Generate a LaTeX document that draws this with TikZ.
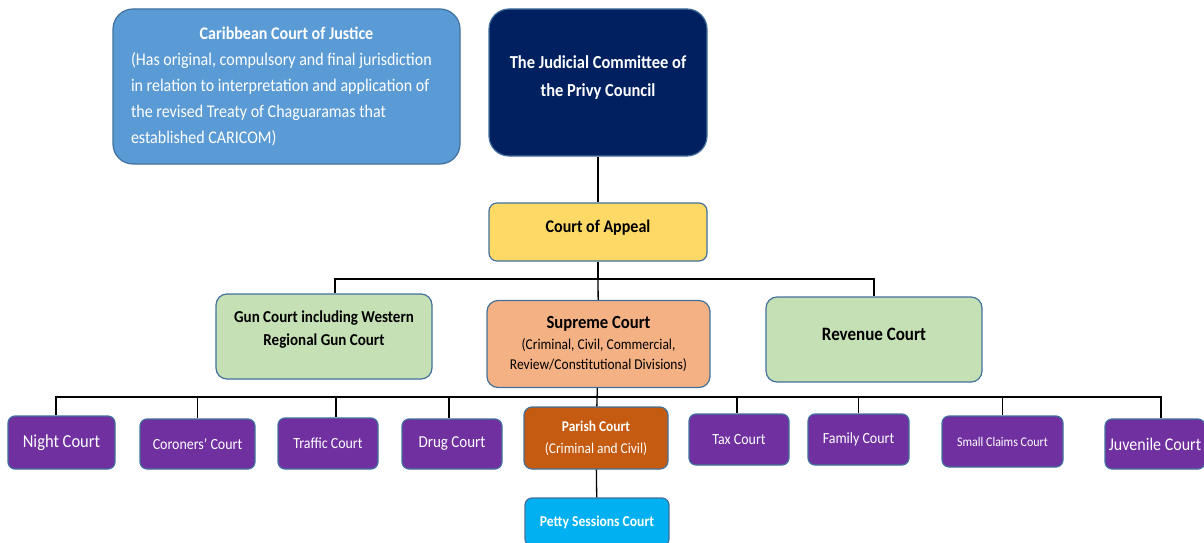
\documentclass[tikz,border=0pt]{standalone}
\usepackage{fontspec}
\setmainfont[FakeStretch=0.9]{Carlito}
\usetikzlibrary{positioning}
\definecolor{ccjblue}{HTML}{5B9BD5}
\definecolor{navy}{HTML}{002060}
\definecolor{appealyellow}{HTML}{FFD966}
\definecolor{lightgreen}{HTML}{C5E0B4}
\definecolor{peach}{HTML}{F4B183}
\definecolor{courtpurple}{HTML}{7030A0}
\definecolor{parishbrown}{HTML}{C55A11}
\definecolor{pettyblue}{HTML}{00B0F0}
\definecolor{boxline}{HTML}{41719C}
\tikzset{
  court/.style={draw=boxline, line width=1.2pt, rounded corners=11pt, align=center, inner sep=2pt},
  lower/.style={court, fill=courtpurple, text=white, minimum height=51pt, rounded corners=7pt,
    font=\fontsize{15.5}{17}\selectfont},
  link/.style={line width=1.3pt, black}
}
\begin{document}
\begin{tikzpicture}[x=1pt, y=-1pt]
\useasboundingbox (0,0) rectangle (1204,543);
% top row
\node[court, fill=ccjblue, text=white, minimum width=347pt, minimum height=155pt, align=left, rounded corners=20pt,
  font=\fontsize{17.8}{26}\selectfont] (ccj) at (286.5,86.5)
  {\makebox[311pt][c]{\bfseries Caribbean Court of Justice}\\
   (Has original, compulsory and final jurisdiction\\
   in relation to interpretation and application of\\
   the revised Treaty of Chaguaramas that\\
   established CARICOM)};
\node[court, fill=navy, text=white, minimum width=218pt, minimum height=147pt, rounded corners=20pt,
  font=\bfseries\fontsize{18.3}{28}\selectfont] (jcpc) at (598,82.5)
  {The Judicial Committee of\\the Privy Council\\[-15pt]};
\node[court, fill=appealyellow, minimum width=218pt, minimum height=58pt, rounded corners=8pt,
  font=\bfseries\fontsize{17.8}{20}\selectfont] (appeal) at (598,232) {Court of Appeal\\[-8pt]};
% middle row
\node[court, fill=lightgreen, minimum width=216pt, minimum height=85pt,
  font=\bfseries\fontsize{16.7}{23}\selectfont] (gun) at (324,336.5)
  {Gun Court including Western\\Regional Gun Court\\[-7pt]};
\node[court, fill=peach, minimum width=223pt, minimum height=87pt,
  font=\fontsize{15}{20.5}\selectfont] (supreme) at (598.5,344)
  {{\bfseries\fontsize{18.5}{20}\selectfont Supreme Court}\\(Criminal, Civil, Commercial,\\Review/Constitutional Divisions)};
\node[court, fill=lightgreen, minimum width=216pt, minimum height=85pt,
  font=\bfseries\fontsize{18.9}{20}\selectfont] (revenue) at (874,339.5) {Revenue Court\\[-9pt]};
% lower row
\node[lower, minimum width=107pt, minimum height=53pt, font=\fontsize{18.3}{20}\selectfont] (night) at (61.5,442.5) {Night Court};
\node[lower, minimum width=115pt, minimum height=50pt] (coroners) at (197.5,444) {Coroners’ Court};
\node[lower, minimum width=100pt] (traffic) at (328,443.5) {Traffic Court};
\node[lower, minimum width=100pt, minimum height=50pt, font=\fontsize{16.7}{18}\selectfont] (drug) at (452,444) {Drug Court};
\node[court, fill=parishbrown, text=white, minimum width=144pt, minimum height=62pt, rounded corners=8pt,
  font=\fontsize{14.9}{22}\selectfont] (parish) at (596,438)
  {{\bfseries Parish Court}\\(Criminal and Civil)};
\node[lower, minimum width=100pt] (tax) at (739,439.5) {Tax Court};
\node[lower, minimum width=101pt] (family) at (858.5,439.5) {Family Court};
\node[lower, minimum width=121pt, font=\fontsize{13.3}{15}\selectfont] (small) at (1002.5,441.5) {Small Claims Court};
\node[lower, minimum width=100pt, minimum height=50pt, font=\fontsize{17.8}{19}\selectfont] (juvenile) at (1155,444) {Juvenile Court};
\node[court, fill=pettyblue, text=white, minimum width=144pt, minimum height=48pt, rounded corners=7pt,
  font=\bfseries\fontsize{15.1}{17}\selectfont] (petty) at (597,522) {Petty Sessions Court};
% connectors
\coordinate (upperbus) at (598,279);
\coordinate (lowerbus) at (598,397);
\draw[link] (jcpc) -- (appeal);
\draw[link] (appeal) -- (upperbus);
\draw[link] (upperbus) -| ([xshift=11pt]gun.north);
\draw[link] (upperbus) -- (supreme);
\draw[link] (upperbus) -| (revenue);
\draw[link] (supreme) -- (parish);
\foreach \c/\dx in {night/-5.5,coroners/0,traffic/8,drug/-3,tax/-2,family/0,small/0,juvenile/6}
  \draw[link] (lowerbus) -| ([xshift=\dx pt]\c.north);
\draw[link] (parish) -- (petty);
\end{tikzpicture}
\end{document}
